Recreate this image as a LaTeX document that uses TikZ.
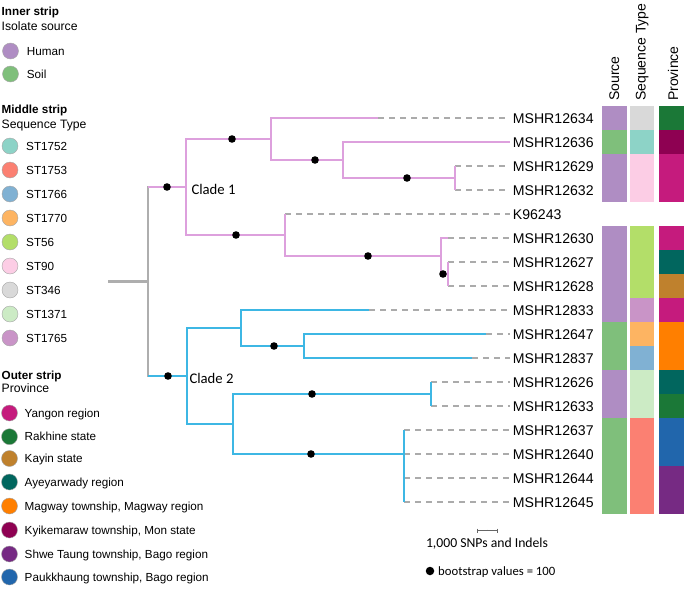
\documentclass[tikz,border=0pt]{standalone}
\usepackage{fontspec}
\setmainfont{Liberation Sans}
\newfontfamily\calibri{Carlito}
\usepackage{tikz}
\usepackage{xcolor}
\usetikzlibrary{calc}

\definecolor{cladeone}{HTML}{DDA0DD}
\definecolor{cladetwo}{HTML}{3DB7E4}
\definecolor{rootgray}{HTML}{AEAEAE}
\definecolor{dashgray}{HTML}{ABABAB}
\definecolor{human}{HTML}{AF8DC3}
\definecolor{soil}{HTML}{7FBF7B}
\definecolor{st1752}{HTML}{8DD3C7}
\definecolor{st1753}{HTML}{FB8072}
\definecolor{st1766}{HTML}{80B1D3}
\definecolor{st1770}{HTML}{FDB462}
\definecolor{st56}{HTML}{B3DE69}
\definecolor{st90}{HTML}{FCCDE5}
\definecolor{st346}{HTML}{D9D9D9}
\definecolor{st1371}{HTML}{CCEBC5}
\definecolor{st1765}{HTML}{C994C7}
\definecolor{yangon}{HTML}{C51B7D}
\definecolor{rakhine}{HTML}{1B7837}
\definecolor{kayin}{HTML}{BF812D}
\definecolor{ayeyarwady}{HTML}{01665E}
\definecolor{magway}{HTML}{FF7F00}
\definecolor{mon}{HTML}{8E0152}
\definecolor{shwetaung}{HTML}{762A83}
\definecolor{paukkhaung}{HTML}{2166AC}

\begin{document}
\begin{tikzpicture}[x=1pt, y=-1pt,
    one/.style={draw=cladeone, line width=2.7pt},
    two/.style={draw=cladetwo, line width=2.7pt},
    stem/.style={draw=rootgray, line width=2.7pt},
    ext/.style={draw=dashgray, line width=1.3pt, dash pattern=on 6pt off 5pt},
    boot/.style={circle, fill=black, inner sep=0pt, minimum size=7.6pt},
    leaflabel/.style={anchor=base west, inner xsep=3pt, inner ysep=0pt, font=\fontsize{14.1}{17}\selectfont},
    striphead/.style={rotate=90, anchor=base west, inner sep=0pt, font=\fontsize{14}{16}\selectfont},
    cladelabel/.style={anchor=base west, inner sep=0pt, font=\calibri\fontsize{14.7}{17}\selectfont},
    keyhead/.style={anchor=base west, inner sep=0pt, font=\bfseries\fontsize{11.7}{14}\selectfont},
    keysub/.style={anchor=base west, inner sep=0pt, font=\fontsize{12.2}{14}\selectfont},
    keyitem/.style={anchor=base west, inner sep=0pt, font=\fontsize{11.7}{14}\selectfont},
    keydot/.style={circle, draw=gray!70, line width=0.4pt, inner sep=0pt, minimum size=16pt}]

    \useasboundingbox (0,0) rectangle (685,589);

    \coordinate (base) at (108,281.5);
    \coordinate (root) at (148,281.5);
    \coordinate (c1) at (186,187);
    \coordinate (c2) at (187,376);
    \coordinate (a1) at (271,139);
    \coordinate (a2) at (343,160);
    \coordinate (a3) at (455,178);
    \coordinate (b1) at (285,235);
    \coordinate (b2) at (441,256);
    \coordinate (b3) at (448,274);
    \coordinate (d0) at (241,328);
    \coordinate (d1) at (304,346);
    \coordinate (e0) at (233,424);
    \coordinate (e1) at (431,394);
    \coordinate (e2) at (404,454);

    \foreach \name/\tx [count=\i from 0] in {MSHR12634/378, MSHR12636/509.7, MSHR12629/455,
        MSHR12632/455, K96243/285, MSHR12630/448, MSHR12627/448, MSHR12628/448,
        MSHR12833/369, MSHR12647/486, MSHR12837/472, MSHR12626/431, MSHR12633/431,
        MSHR12637/404, MSHR12640/404, MSHR12644/404, MSHR12645/404}
    {
        \coordinate (t\i) at (\tx,118+24*\i);
        \node[leaflabel] (l\i) at (509.7,123.1+24*\i) {\name};
        \draw[ext] (t\i) -- (t\i -| l\i.west);
    }

    \draw[stem] (base) -- (root);
    \draw[stem, line cap=rect] (root |- c1) -- (root |- c2);
    \draw[one] (root |- c1) -- (c1);
    \draw[two] (root |- c2) -- (c2);

    \draw[one] (c1) |- (a1);
    \draw[one] (c1) |- (b1);
    \draw[one] (a1) |- (t0);
    \draw[one] (a1) |- (a2);
    \draw[one] (a2) |- (t1);
    \draw[one] (a2) |- (a3);
    \draw[one] (a3) |- (t2);
    \draw[one] (a3) |- (t3);
    \draw[one] (b1) |- (t4);
    \draw[one] (b1) |- (b2);
    \draw[one] (b2) |- (t5);
    \draw[one] (b2) |- (b3);
    \draw[one] (b3) |- (t6);
    \draw[one] (b3) |- (t7);

    \draw[two] (c2) |- (d0);
    \draw[two] (c2) |- (e0);
    \draw[two] (d0) |- (t8);
    \draw[two] (d0) |- (d1);
    \draw[two] (d1) |- (t9);
    \draw[two] (d1) |- (t10);
    \draw[two] (e0) |- (e1);
    \draw[two] (e0) |- (e2);
    \draw[two] (e1) |- (t11);
    \draw[two] (e1) |- (t12);
    \foreach \i in {13,...,16}
        \draw[two] (e2) |- (t\i);

    \foreach \x/\y [count=\k] in {167/187, 168/376, 232/139, 315/160, 407/178, 236/235,
        368/256, 443/274, 274/346, 312/394, 311/454}
        \node[boot] (bs\k) at (\x,\y) {};

    \node[cladelabel] (clade1) at (191.3,194.7) {Clade 1};
    \node[cladelabel] (clade2) at (189.3,383.7) {Clade 2};

    \foreach \r/\src/\st/\pv in {0/human/st346/rakhine, 1/soil/st1752/mon, 2/human/st90/yangon,
        3/human/st90/yangon, 5/human/st56/yangon, 6/human/st56/ayeyarwady, 7/human/st56/kayin,
        8/human/st1765/yangon, 9/soil/st1770/magway, 10/soil/st1766/magway,
        11/human/st1371/ayeyarwady, 12/human/st1371/rakhine, 13/soil/st1753/paukkhaung,
        14/soil/st1753/paukkhaung, 15/soil/st1753/shwetaung, 16/soil/st1753/shwetaung}
    {
        \fill[\src] (602.3,106+24*\r) rectangle ++(24.4,24.3);
        \fill[\st] (630,106+24*\r) rectangle ++(24.3,24.3);
        \fill[\pv] (659.3,106+24*\r) rectangle ++(25,24.3);
    }

    \node[striphead] (hsource) at (619,101) {Source};
    \node[striphead] (hseqtype) at (645.5,101) {Sequence Type};
    \node[striphead] (hprovince) at (678,101) {Province};

    \node[keyhead] (kinner) at (1.5,16) {Inner strip};
    \node[keysub] (ksource) at (1.5,30.7) {Isolate source};
    \foreach \c/\t/\y [count=\k] in {human/Human/51, soil/Soil/74}
    {
        \node[keydot, fill=\c] (ks\k) at (10.5,\y) {};
        \node[keyitem] (kst\k) at (26.7,\y+4.2) {\t};
    }

    \node[keyhead] (kmiddle) at (1.5,113.3) {Middle strip};
    \node[keysub] (kseq) at (1.5,128.3) {Sequence Type};
    \foreach \c/\t [count=\k from 0] in {st1752/ST1752, st1753/ST1753, st1766/ST1766,
        st1770/ST1770, st56/ST56, st90/ST90, st346/ST346, st1371/ST1371, st1765/ST1765}
    {
        \node[keydot, fill=\c] (km\k) at (10,146+24*\k) {};
        \node[keyitem] (kmt\k) at (26,150.2+24*\k) {\t};
    }

    \node[keyhead] (kouter) at (1.5,379) {Outer strip};
    \node[keysub] (kprov) at (1.5,392.7) {Province};
    \foreach \c/\t/\y [count=\k] in {yangon/Yangon region/413, rakhine/Rakhine state/436.7,
        kayin/Kayin state/458.5, ayeyarwady/Ayeyarwady region/482,
        magway/{Magway township, Magway region}/506, mon/{Kyikemaraw township, Mon state}/530,
        shwetaung/{Shwe Taung township, Bago region}/554,
        paukkhaung/{Paukkhaung township, Bago region}/577}
    {
        \node[keydot, fill=\c] (ko\k) at (9.5,\y) {};
        \node[keyitem] (kot\k) at (24.5,\y+4.2) {\t};
    }

    \coordinate (sbl) at (477.7,530.7);
    \coordinate (sbm) at (487.5,530.7);
    \coordinate (sbr) at (497.3,530.7);
    \draw[gray!80!black, line width=0.6pt] (sbl) -- (sbr);
    \draw[gray!80!black, line width=0.6pt] ($(sbl)+(0,-2.2)$) -- ($(sbl)+(0,2.2)$);
    \draw[gray!80!black, line width=0.6pt] ($(sbr)+(0,-2.2)$) -- ($(sbr)+(0,2.2)$);
    \draw[gray!80!black, line width=0.6pt] ($(sbm)+(0,-1.2)$) -- (sbm);
    \node[anchor=base, inner sep=0pt, font=\calibri\fontsize{13.7}{16}\selectfont] (sbtext)
        at (487,547.5) {1,000 SNPs and Indels};

    \node[boot, minimum size=8.5pt] (bskey) at (430,571) {};
    \node[anchor=base west, inner sep=0pt, font=\calibri\fontsize{12.7}{15}\selectfont] (bstext)
        at (438,575.3) {bootstrap values = 100};
\end{tikzpicture}
\end{document}
